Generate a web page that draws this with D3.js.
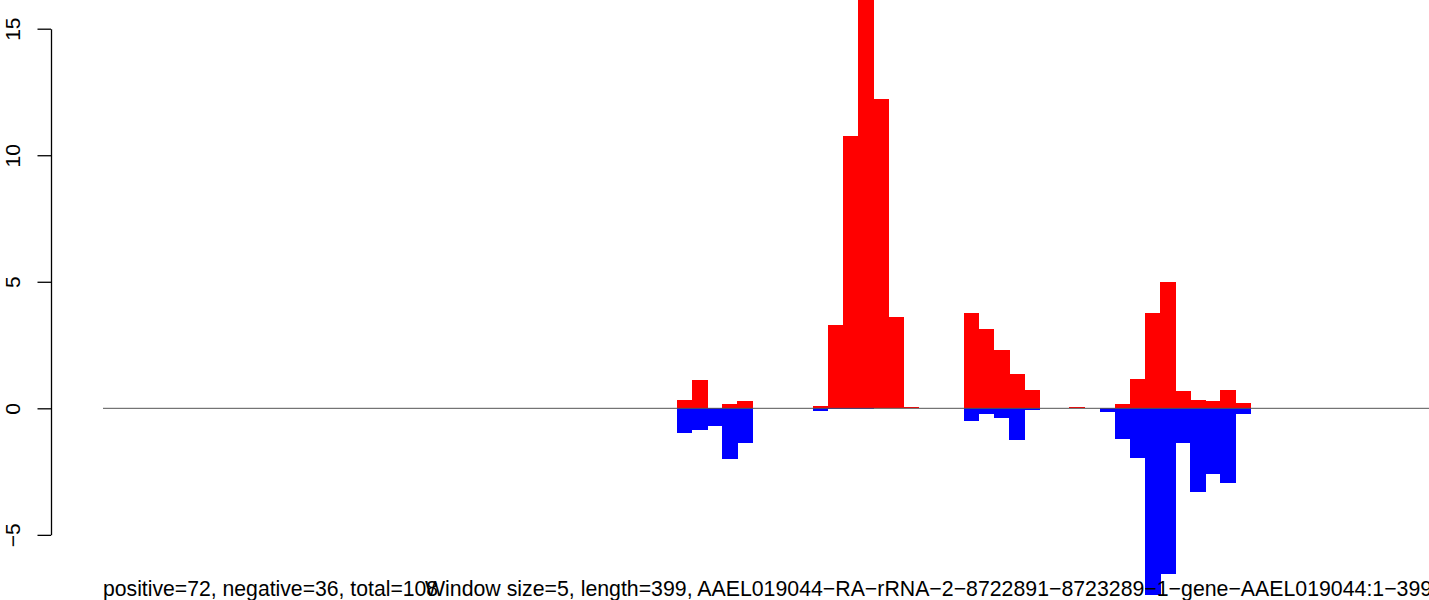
<!DOCTYPE html>
<html>
<head>
<meta charset="utf-8">
<script src="https://cdn.jsdelivr.net/npm/d3@7"></script>
<style>
  html, body { margin: 0; padding: 0; background: #fff; overflow: hidden; }
  svg { display: block; font-family: "Liberation Sans", Arial, sans-serif; }
</style>
</head>
<body>
<script>
// ---- data ----
const windowSize = 5;
const seqLength = 399;
// window indices (0-based) that hold reads
const windows = [38, 39, 40, 41, 42, 47, 48, 49, 50, 51, 52, 53, 57, 58, 59, 60, 61, 64, 66, 67, 68, 69, 70, 71, 72, 73, 74, 75];
// positive-strand values per window
const positiveValues = [0.33, 1.12, 0, 0.17, 0.29, 0.09, 3.29, 10.76, 17.2, 12.24, 3.61, 0.05, 3.77, 3.13, 2.30, 1.36, 0.72, 0.05, 0, 0.17, 1.16, 3.77, 4.98, 0.68, 0.33, 0.29, 0.72, 0.21];
// negative-strand values per window
const negativeValues = [-0.96, -0.86, -0.69, -2.0, -1.36, -0.10, -0.04, -0.04, -0.04, 0, 0, 0, -0.49, -0.21, -0.37, -1.24, -0.05, 0, -0.13, -1.2, -1.95, -7.37, -6.56, -1.37, -3.31, -2.6, -2.95, -0.21];
const yTicks = [-5, 0, 5, 10, 15];
const leftLabel = "positive=72, negative=36, total=108";
const rightLabel = "Window size=5, length=399, AAEL019044\u2212RA\u2212rRNA\u22122\u22128722891\u22128723289\u22121\u2212gene\u2212AAEL019044:1\u2212399";

// ---- layout ----
const W = 1429, H = 600;
const svg = d3.select("body").append("svg").attr("width", W).attr("height", H);

const x = d3.scaleLinear().domain([0, 400]).range([103, 103 + 400 * 3.02]);
const y = d3.scaleLinear().domain([-5, 15]).range([534.85, 28.7]);

const bars = windows.map((w, i) => ({ w, pos: positiveValues[i], neg: negativeValues[i] }));

// positive bars
svg.append("g").attr("shape-rendering", "crispEdges")
  .selectAll("rect").data(bars.filter(d => d.pos > 0)).join("rect")
  .attr("x", d => x(d.w * windowSize))
  .attr("width", d => x((d.w + 1) * windowSize) - x(d.w * windowSize) + 0.5)
  .attr("y", d => y(d.pos))
  .attr("height", d => y(0) - y(d.pos))
  .attr("fill", "#ff0000");

// negative bars
svg.append("g").attr("shape-rendering", "crispEdges")
  .selectAll("rect").data(bars.filter(d => d.neg < 0)).join("rect")
  .attr("x", d => x(d.w * windowSize))
  .attr("width", d => x((d.w + 1) * windowSize) - x(d.w * windowSize) + 0.5)
  .attr("y", y(0))
  .attr("height", d => y(d.neg) - y(0))
  .attr("fill", "#0000ff");

// zero line
svg.append("line")
  .attr("x1", x(0)).attr("x2", W)
  .attr("y1", y(0)).attr("y2", y(0))
  .attr("stroke", "#555").attr("stroke-width", 1);

// y axis
const yAxis = d3.axisLeft(y).tickValues(yTicks).tickSize(13.5).tickSizeOuter(0)
  .tickFormat(d => d < 0 ? "\u2212" + Math.abs(d) : String(d));
const ga = svg.append("g").attr("transform", "translate(51,0)").call(yAxis);
ga.select(".domain").attr("stroke", "#000").attr("stroke-width", 1.3);
ga.selectAll(".tick line").attr("stroke", "#000").attr("stroke-width", 1.3);
ga.selectAll(".tick text")
  .attr("transform", "rotate(-90)")
  .attr("x", 0).attr("y", -31.5).attr("dy", 0)
  .attr("text-anchor", "middle")
  .attr("fill", "#000")
  .style("font-size", "21px")
  .style("font-family", "Liberation Sans, Arial, sans-serif");

// bottom texts
svg.append("text").attr("x", 103).attr("y", 596)
  .style("font-size", "21.2px").attr("fill", "#000").text(leftLabel);
svg.append("text").attr("x", 425).attr("y", 596)
  .style("font-size", "21.3px").attr("fill", "#000").text(rightLabel);
</script>
</body>
</html>
